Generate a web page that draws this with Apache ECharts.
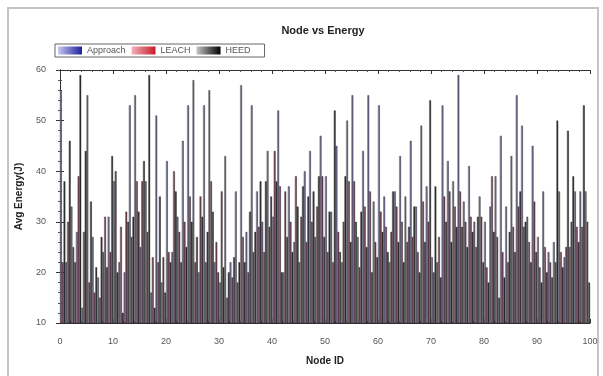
<!DOCTYPE html>
<html>
<head>
<meta charset="utf-8">
<script src="https://cdn.jsdelivr.net/npm/echarts@6/dist/echarts.min.js"></script>
<style>
  html, body { margin: 0; padding: 0; background: #fff; }
  #chart { width: 603px; height: 376px; }
</style>
</head>
<body>
<div id="chart"></div>
<script>
  // node ids 1..100, one group of three bars per node
  const nodeIds = []
  for (let i = 1; i <= 100; i++) nodeIds.push(String(i))

  const approach = [
    56, 22, 33, 28, 13, 55, 27, 19, 24, 31,
    38, 22, 20, 53, 55, 25, 38, 16, 51, 18,
    42, 24, 31, 46, 53, 58, 20, 53, 56, 22,
    18, 43, 22, 36, 57, 28, 53, 36, 30, 44,
    31, 52, 20, 37, 26, 22, 40, 44, 27, 47,
    39, 32, 45, 22, 50, 55, 27, 44, 55, 34,
    53, 35, 22, 36, 43, 35, 46, 33, 49, 37,
    23, 22, 53, 42, 38, 59, 34, 41, 30, 35,
    30, 33, 39, 47, 33, 43, 55, 49, 31, 45,
    27, 36, 24, 26, 36, 23, 25, 36, 36, 36
  ]
  const leach = [
    22, 30, 25, 39, 28, 18, 16, 15, 31, 24,
    40, 29, 32, 27, 38, 38, 28, 23, 22, 23,
    24, 40, 28, 30, 35, 22, 35, 22, 38, 26,
    36, 15, 19, 18, 27, 20, 24, 29, 24, 29,
    44, 37, 36, 30, 39, 31, 26, 30, 33, 39,
    24, 22, 28, 30, 38, 38, 21, 33, 36, 26,
    32, 29, 28, 33, 30, 26, 27, 24, 34, 30,
    20, 27, 35, 36, 33, 36, 30, 31, 25, 31,
    21, 39, 27, 24, 22, 29, 33, 29, 26, 34,
    21, 25, 22, 22, 24, 25, 30, 29, 29, 30
  ]
  const heed = [
    38, 46, 22, 59, 44, 34, 21, 27, 21, 43,
    20, 12, 30, 31, 32, 42, 59, 13, 35, 16,
    22, 36, 22, 25, 30, 27, 31, 28, 32, 20,
    21, 20, 23, 22, 22, 32, 28, 38, 38, 35,
    38, 20, 27, 24, 33, 37, 35, 36, 39, 27,
    32, 52, 24, 39, 26, 30, 32, 25, 20, 23,
    28, 24, 36, 26, 22, 29, 33, 20, 26, 54,
    37, 19, 30, 26, 29, 29, 25, 28, 31, 22,
    18, 28, 15, 19, 28, 24, 36, 30, 22, 24,
    18, 20, 19, 50, 21, 48, 39, 26, 53, 18
  ]
  const xTicks = [0, 100]   // node id axis range
  const yTicks = [10, 60]   // energy axis range

  function shade (light, dark) {
    return new echarts.graphic.LinearGradient(0, 0, 1, 0, [
      { offset: 0, color: light },
      { offset: 1, color: dark }
    ])
  }

  const chart = echarts.init(document.getElementById('chart'), null, { renderer: 'canvas' })

  const tickStyle = { inside: true, length: 4, lineStyle: { color: '#333' } }
  const minorStyle = { show: true, splitNumber: 5, length: 2, lineStyle: { color: '#555' } }
  const lineStyle = { lineStyle: { color: '#333', width: 1 } }
  const edge = { borderColor: '#222', borderWidth: 0.4 }

  chart.setOption({
    backgroundColor: '#fff',
    animation: false,
    title: {
      text: 'Node vs Energy',
      left: 318,
      textAlign: 'center',
      top: 20,
      textStyle: { fontFamily: 'Liberation Sans', fontSize: 11, fontWeight: 'bold', color: '#222' }
    },
    legend: {
      left: 55,
      top: 44,
      padding: [2, 14, 2, 3],
      itemGap: 6,
      itemWidth: 24,
      itemHeight: 8,
      icon: 'rect',
      borderColor: '#666',
      borderWidth: 1,
      textStyle: { fontFamily: 'Liberation Sans', fontSize: 9, color: '#555' },
      data: [
        { name: 'Approach', itemStyle: { color: shade('#c8c8f0', '#1e1e9a'), borderWidth: 0 } },
        { name: 'LEACH', itemStyle: { color: shade('#f2b4bc', '#c81828'), borderWidth: 0 } },
        { name: 'HEED', itemStyle: { color: shade('#c4c4c4', '#000000'), borderWidth: 0 } }
      ]
    },
    grid: { left: 60, right: 13, top: 70, bottom: 53 },
    xAxis: [
      {
        type: 'category',
        data: nodeIds,
        axisLine: { show: false },
        axisTick: { show: false },
        axisLabel: { show: false }
      },
      {
        type: 'value',
        position: 'bottom',
        min: xTicks[0],
        max: xTicks[1],
        interval: 10,
        axisLine: { show: true, ...lineStyle },
        axisTick: tickStyle,
        minorTick: minorStyle,
        splitLine: { show: false },
        axisLabel: { margin: 14, fontFamily: 'Liberation Sans', fontSize: 9, color: '#555' },
        name: 'Node ID',
        nameLocation: 'middle',
        nameGap: 33,
        nameTextStyle: { fontFamily: 'Liberation Sans', fontSize: 10, fontWeight: 'bold', color: '#222' }
      },
      {
        type: 'value',
        position: 'top',
        min: xTicks[0],
        max: xTicks[1],
        interval: 10,
        axisLine: { show: true, ...lineStyle },
        axisTick: tickStyle,
        minorTick: minorStyle,
        splitLine: { show: false },
        axisLabel: { show: false }
      }
    ],
    yAxis: [
      {
        type: 'value',
        min: yTicks[0],
        max: yTicks[1],
        interval: 10,
        axisLine: { show: true, ...lineStyle },
        axisTick: tickStyle,
        minorTick: minorStyle,
        splitLine: { show: false },
        axisLabel: { margin: 14, fontFamily: 'Liberation Sans', fontSize: 9, color: '#555' },
        name: 'Avg Energy(J)',
        nameLocation: 'middle',
        nameGap: 36,
        nameTextStyle: { fontFamily: 'Liberation Sans', fontSize: 10, fontWeight: 'bold', color: '#222' }
      },
      {
        type: 'value',
        position: 'right',
        min: yTicks[0],
        max: yTicks[1],
        interval: 10,
        axisLine: { show: true, ...lineStyle },
        axisTick: tickStyle,
        minorTick: minorStyle,
        splitLine: { show: false },
        axisLabel: { show: false }
      }
    ],
    graphic: [{
      type: 'rect',
      shape: { x: 8, y: 8, width: 590, height: 380 },
      style: { fill: 'none', stroke: '#c4c4c4', lineWidth: 2 },
      silent: true
    }],
    series: [
      {
        name: 'Approach',
        type: 'bar',
        barGap: '0%',
        barCategoryGap: '0%',
        itemStyle: { color: shade('#b4b2cc', '#3a3868'), ...edge },
        data: approach
      },
      {
        name: 'LEACH',
        type: 'bar',
        itemStyle: { color: shade('#b07888', '#4a1828'), ...edge },
        data: leach
      },
      {
        name: 'HEED',
        type: 'bar',
        itemStyle: { color: shade('#6a6a6a', '#060606'), ...edge },
        data: heed
      }
    ]
  })
</script>
</body>
</html>
